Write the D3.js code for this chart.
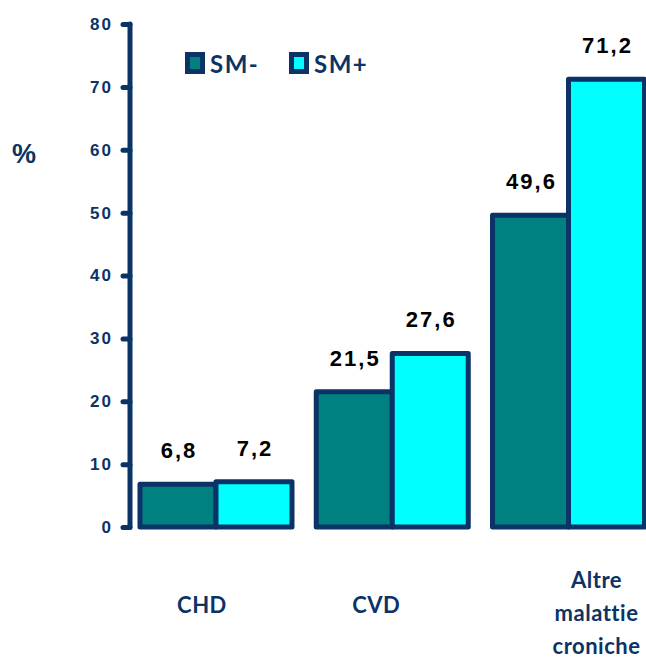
<!DOCTYPE html>
<html>
<head>
<meta charset="utf-8">
<script src="https://cdn.jsdelivr.net/npm/d3@7"></script>
<style>
  html, body { margin: 0; padding: 0; background: #fff; }
  svg { display: block; }
</style>
</head>
<body>
<svg id="chart" width="646" height="659"></svg>
<script>
// Data
const categories = ["CHD", "CVD", "Altre malattie croniche"];
const categoryLines = [["CHD"], ["CVD"], ["Altre", "malattie", "croniche"]];
const seriesNames = ["SM-", "SM+"];
const smMinus = [6.8, 21.5, 49.6];
const smPlus = [7.2, 27.6, 71.2];
const yTicks = [0, 10, 20, 30, 40, 50, 60, 70, 80];

const navy = "#0b3366";
const colors = ["#008080", "#00FFFF"];
const handFont = "'Comic Sans MS', 'Lato', 'Open Sans', sans-serif";

const svg = d3.select("#chart");

const y = d3.scaleLinear().domain([0, 80]).range([527, 24]);
const x = d3.scaleBand().domain(categories).range([130, 654.5])
  .paddingInner(0.1376).paddingOuter(0.0567);
const xs = d3.scaleBand().domain(seriesNames).range([0, x.bandwidth()]);

const rows = categories.map((c, i) => ({ cat: c, values: [smMinus[i], smPlus[i]] }));

// Bars
const groups = svg.append("g").selectAll("g").data(rows).join("g")
  .attr("transform", d => `translate(${x(d.cat)},0)`);

groups.selectAll("rect").data(d => d.values.map((v, j) => ({ v, s: seriesNames[j], j })))
  .join("rect")
  .attr("x", d => xs(d.s))
  .attr("y", d => y(d.v))
  .attr("width", xs.bandwidth())
  .attr("height", d => y(0) - y(d.v))
  .attr("fill", d => colors[d.j])
  .attr("stroke", navy)
  .attr("stroke-width", 5)
  .attr("stroke-linejoin", "round");

// Value labels
groups.selectAll("text.val").data(d => d.values.map((v, j) => ({ v, s: seriesNames[j] })))
  .join("text")
  .attr("class", "val")
  .attr("x", d => xs(d.s) + xs.bandwidth() / 2 + 1)
  .attr("y", d => y(d.v) - 26)
  .attr("text-anchor", "middle")
  .attr("font-family", "'Liberation Sans', Arial, sans-serif")
  .attr("font-weight", "bold")
  .attr("font-size", 22)
  .attr("letter-spacing", 2)
  .attr("fill", "#000")
  .text(d => String(d.v).replace(".", ","));

// Y axis
const yAxis = d3.axisLeft(y).tickValues(yTicks).tickSize(7).tickPadding(10);
const ax = svg.append("g").attr("transform", "translate(130,0)").call(yAxis);
ax.select(".domain").remove();
ax.append("line")
  .attr("x1", 0).attr("x2", 0).attr("y1", y(80)).attr("y2", y(0))
  .attr("stroke", navy).attr("stroke-width", 5).attr("stroke-linecap", "round");
ax.selectAll(".tick line").attr("stroke", navy).attr("stroke-width", 5)
  .attr("stroke-linecap", "round");
ax.selectAll(".tick text")
  .attr("fill", navy)
  .attr("font-family", "'Liberation Sans', Arial, sans-serif")
  .attr("font-weight", "bold")
  .attr("font-size", 17)
  .attr("letter-spacing", 2);

// Y title
svg.append("text")
  .attr("x", 24).attr("y", 163)
  .attr("text-anchor", "middle")
  .attr("font-family", "'Liberation Sans', Arial, sans-serif")
  .attr("font-weight", "bold")
  .attr("font-size", 27)
  .attr("fill", navy)
  .text("%");

// Category labels
const labelShift = [-14, -16, 28];
const labelTop = [606, 606, 581];
categories.forEach((c, i) => {
  const t = svg.append("text")
    .attr("text-anchor", "middle")
    .attr("font-family", handFont)
    .attr("font-weight", "bold")
    .attr("font-size", 22)
    .attr("letter-spacing", 0.5)
    .attr("fill", navy);
  categoryLines[i].forEach((line, k) => {
    t.append("tspan")
      .attr("x", x(c) + x.bandwidth() / 2 + labelShift[i])
      .attr("y", labelTop[i] + 7 + k * 33)
      .text(line);
  });
});

// Legend
const legend = svg.append("g").attr("transform", "translate(187.5,54.5)");
const legendX = [0, 104];
seriesNames.forEach((s, j) => {
  const g = legend.append("g").attr("transform", `translate(${legendX[j]},0)`);
  g.append("rect").attr("x", 0).attr("y", 0).attr("width", 15).attr("height", 17)
    .attr("fill", colors[j]).attr("stroke", navy).attr("stroke-width", 5);
  g.append("text").attr("x", 22.5).attr("y", 18.5)
    .attr("font-family", handFont)
    .attr("font-weight", "bold")
    .attr("font-size", 24)
    .attr("letter-spacing", 1.5)
    .attr("fill", navy)
    .text(s);
});
</script>
</body>
</html>
